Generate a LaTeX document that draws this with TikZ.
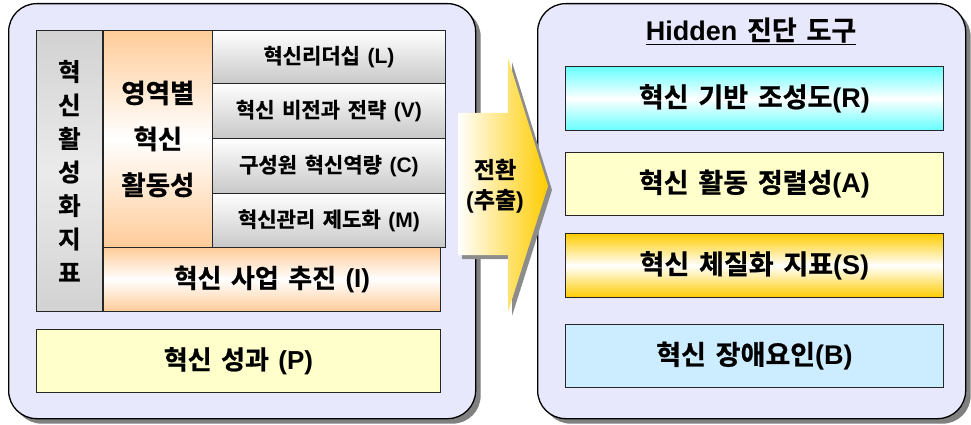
\documentclass[tikz,border=0pt]{standalone}
\usepackage{fontspec}
\setmainfont{Noto Sans CJK KR Bold}[WordSpace=1.6, FakeBold=0.8]
\newfontfamily\lat{Liberation Sans Bold}
\usetikzlibrary{shadows,calc}
\definecolor{panelbg}{RGB}{232,232,252}
\definecolor{peach}{RGB}{255,204,153}
\definecolor{cyanc}{RGB}{102,255,255}
\definecolor{goldc}{RGB}{255,204,0}
\definecolor{lyellow}{RGB}{255,255,204}
\definecolor{lblue}{RGB}{204,236,255}
\definecolor{graycol}{RGB}{210,210,210}
\definecolor{rowgray}{RGB}{200,200,200}
\begin{document}
\begin{tikzpicture}[x=1pt,y=-1pt,
  panel/.style={draw=black, line width=1.3pt, fill=panelbg, rounded corners=28pt,
    anchor=north west, inner sep=0pt,
    drop shadow={shadow xshift=5pt, shadow yshift=-5pt, fill=black!50, opacity=1}},
  cell/.style={draw=black!85, line width=0.8pt, inner sep=0pt, anchor=north west,
    align=center, font=\fontsize{26}{30}\selectfont},
  rowcell/.style={cell, top color=white, bottom color=rowgray,
    font=\fontsize{21}{24}\selectfont},
  orangegrad/.style={top color=peach, bottom color=peach, middle color=white},
  bigtxt/.style={font=\fontsize{26}{30}\selectfont},
  rtxt/.style={font=\fontsize{27}{30}\selectfont}
]
\useasboundingbox (0,0) rectangle (971,425);

% panels
\node[panel, minimum width=467pt, minimum height=415pt] (lpanel) at (8,3) {};
\node[panel, minimum width=428pt, minimum height=415pt] (rpanel) at (537,3) {};

% left column: vertical label
\node[cell, minimum width=66pt, minimum height=281pt,
  top color=graycol, bottom color=graycol, middle color=black!8,
  font=\fontsize{24.5}{33.5}\selectfont] (vcol) at (36,30)
  {혁\\신\\활\\성\\화\\지\\표};

% orange column
\node[cell, minimum width=109pt, minimum height=217pt, orangegrad,
  font=\fontsize{26.5}{46}\selectfont] (ocol) at (103,30)
  {영역별\\혁신\\활동성};

% four rows
\node[rowcell, minimum width=233pt, minimum height=53pt] (rL) at (212,30) {혁신리더십 {\lat(L)}};
\node[rowcell, minimum width=233pt, minimum height=55pt] (rV) at (212,83) {혁신 비전과 전략 {\lat(V)}};
\node[rowcell, minimum width=233pt, minimum height=55pt] (rC) at (212,138) {구성원 혁신역량 {\lat(C)}};
\node[rowcell, minimum width=233pt, minimum height=54pt] (rM) at (212,193) {혁신관리 제도화 {\lat(M)}};

% I bar
\node[cell, minimum width=337pt, minimum height=64pt, orangegrad, bigtxt] (ibar) at (103,247)
  {혁신 사업 추진 {\lat(I)}};

% P bar
\node[cell, minimum width=404pt, minimum height=63pt, fill=lyellow, bigtxt] (pbar) at (36,329)
  {혁신 성과 {\lat(P)}};

% right panel title
\node[font=\fontsize{27}{30}\selectfont] (title) at (751,31) {\underline{{\lat Hidden} 진단 도구}};

% right boxes
\node[cell, minimum width=378pt, minimum height=64pt, top color=cyanc, bottom color=cyanc, middle color=white, rtxt] (bR) at (565,66) {혁신 기반 조성도{\lat(R)}};
\node[cell, minimum width=378pt, minimum height=63pt, fill=lyellow, rtxt] (bA) at (565,152) {혁신 활동 정렬성{\lat(A)}};
\node[cell, minimum width=378pt, minimum height=64pt, top color=goldc, bottom color=goldc, middle color=white, rtxt] (bS) at (565,233) {혁신 체질화 지표{\lat(S)}};
\node[cell, minimum width=378pt, minimum height=63pt, fill=lblue, rtxt] (bB) at (565,324) {혁신 장애요인{\lat(B)}};

% arrow
\fill[black!45] (462,117) -- (512,117) -- (512,62) -- (552,190) -- (512,316) -- (512,259) -- (462,259) -- cycle;
\shade[left color=white, right color=goldc] (458,113) -- (508,113) -- (508,58) -- (548,186) -- (508,312) -- (508,255) -- (458,255) -- cycle;
\node[align=center, font=\fontsize{23}{30}\selectfont] (conv) at (495,186) {전환\\{\lat(}추출{\lat)}};
\end{tikzpicture}
\end{document}
